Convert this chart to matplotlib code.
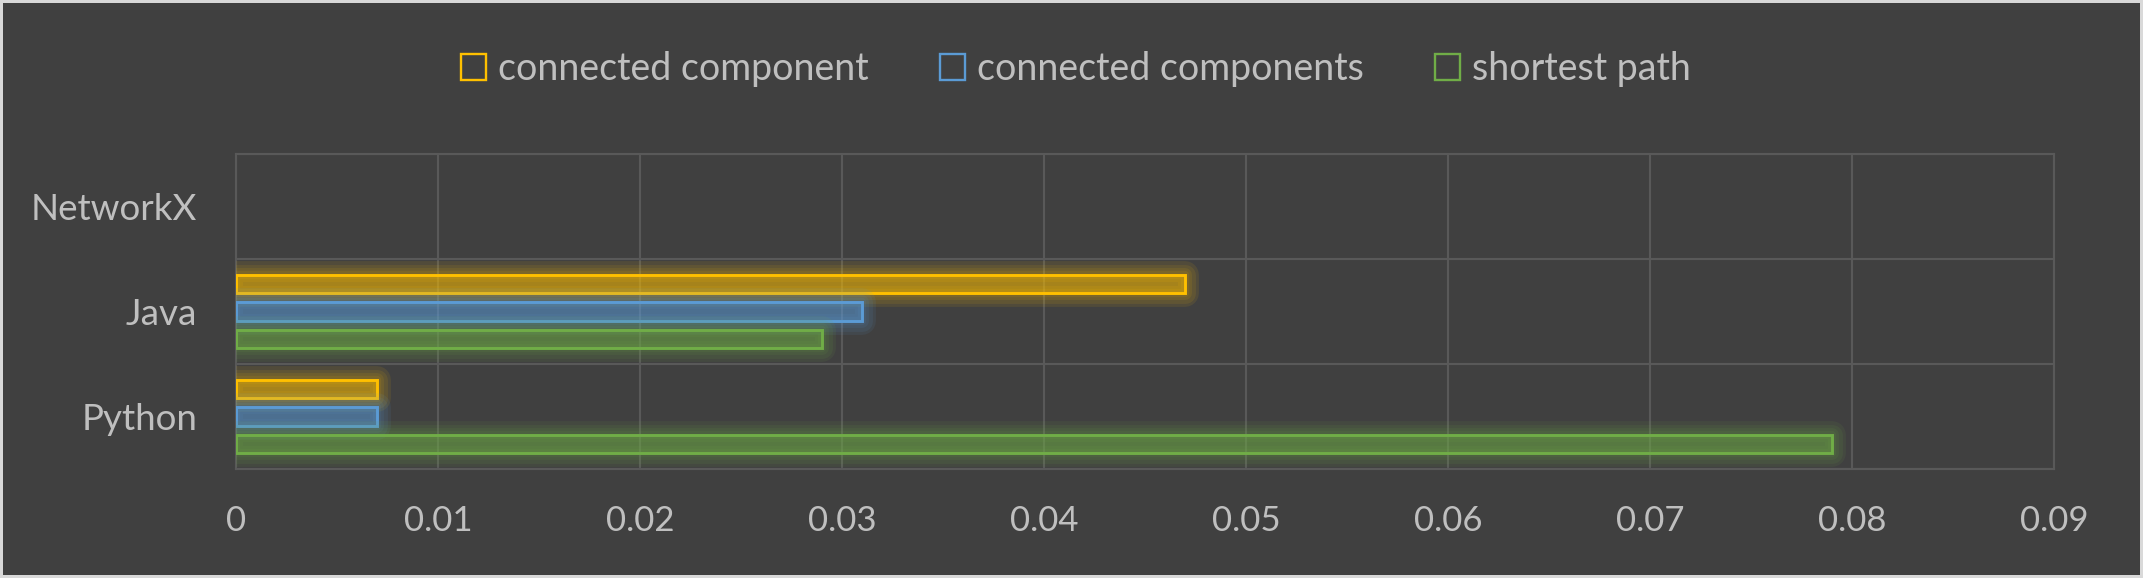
import numpy as np
import matplotlib
matplotlib.use('Agg')
import matplotlib.pyplot as plt
import matplotlib.patheffects as pe
from matplotlib.patches import Patch

plt.rcParams['font.family'] = ['Lato', 'DejaVu Sans']

# data
categories = ['Python', 'Java', 'NetworkX']
connected_component = [0.007, 0.047, np.nan]
connected_components = [0.007, 0.031, np.nan]
shortest_path = [0.079, 0.029, np.nan]
series_labels = ['connected component', 'connected components', 'shortest path']
colors = ['#FFC000', '#5B9BD5', '#70AD47']
xticks = np.arange(0, 0.0901, 0.01)

bg = '#404040'
txt = '#bfbfbf'
grid_c = '#595959'

fig = plt.figure(figsize=(21.43, 5.78), dpi=100)
fig.patch.set_facecolor(bg)
fig.patch.set_edgecolor('#d9d9d9')
fig.patch.set_linewidth(4.3)

ax = fig.add_axes([236/2143, 1-469/578, (2054-236)/2143, (469-154)/578])
ax.set_facecolor(bg)

y = np.arange(len(categories))
h = 0.175
offsets = [0.26, 0, -0.26]
series = [connected_component, connected_components, shortest_path]

# glow around the bars, roughly like the office "glow" effect
def glow(c):
    return [pe.Stroke(linewidth=lw, foreground=c, alpha=0.09, joinstyle='round')
            for lw in (20, 15, 10, 6)] + [pe.Normal()]

for vals, off, c in zip(series, offsets, colors):
    bars = ax.barh(y + off, vals, height=h, color=matplotlib.colors.to_rgba(c, 0.2),
                   edgecolor=c, linewidth=2.1, zorder=3)
    for b in bars:
        b.set_path_effects(glow(c))

ax.set_xlim(0, 0.09)
ax.set_ylim(-0.5, len(categories) - 0.5)
ax.set_xticks(xticks)
ax.set_xticklabels(['0'] + ['%.2f' % v for v in xticks[1:]])
ax.set_yticks(y)
ax.set_yticklabels(categories)
ax.set_yticks(np.arange(-0.5, len(categories), 1.0), minor=True)

ax.grid(axis='x', which='major', color=grid_c, linewidth=1.5, zorder=0)
ax.grid(axis='y', which='minor', color=grid_c, linewidth=1.5, zorder=0)
ax.set_axisbelow(True)
for s in ax.spines.values():
    s.set_color(grid_c)
    s.set_linewidth(1.5)

ax.tick_params(axis='x', which='both', length=0, labelsize=25, colors=txt, pad=26)
ax.tick_params(axis='y', which='major', length=0, labelsize=26.5, colors=txt, pad=28)
ax.tick_params(axis='y', which='minor', length=0)

handles = [Patch(facecolor='none', edgecolor=c, linewidth=1.7) for c in colors]
fig.legend(handles, series_labels, loc='center', bbox_to_anchor=(0.502, 1 - 69/578),
           ncol=3, frameon=False, fontsize=27, labelcolor=txt,
           handlelength=0.67, handleheight=0.67, handletextpad=0.32, columnspacing=1.9)

plt.savefig('out.png', dpi=100, facecolor=fig.get_facecolor(), edgecolor=fig.get_edgecolor())
